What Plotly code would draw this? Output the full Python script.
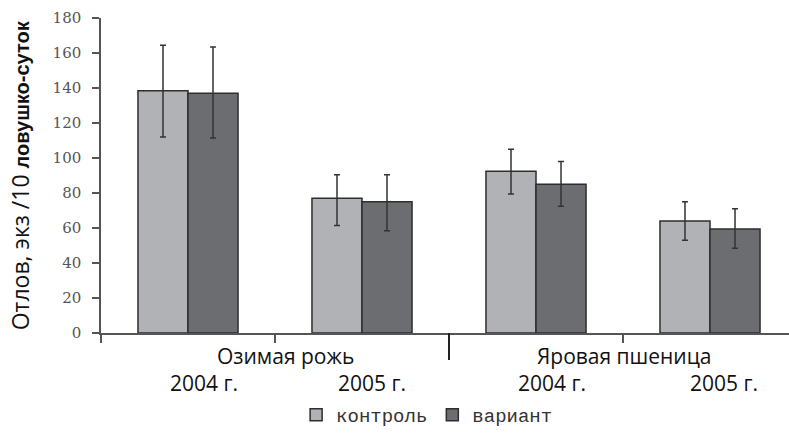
import plotly.graph_objects as go

# ---- data ----
crops = ["Озимая рожь", "Яровая пшеница"]
years = ["2004 г.", "2005 г.", "2004 г.", "2005 г."]
categories = ["Озимая рожь 2004", "Озимая рожь 2005", "Яровая пшеница 2004", "Яровая пшеница 2005"]
series_names = ["контроль", "вариант"]
control = [138.5, 77, 92.5, 64]
control_err_plus = [26, 13.5, 12.5, 11]
control_err_minus = [26.5, 15.5, 13, 11]
variant = [137, 75, 85, 59.5]
variant_err_plus = [26.5, 15.5, 13, 11.5]
variant_err_minus = [25.5, 16.5, 12.5, 11]
y_ticks = [0, 20, 40, 60, 80, 100, 120, 140, 160, 180]
y_title_main = "Отлов, экз /10"
y_title_sub = "ловушко-суток"

colors = ["#b1b2b6", "#6c6d71"]
edge = "#2e2e2e"

fig = go.Figure()
for name, vals, ep, em, col in [
    (series_names[0], control, control_err_plus, control_err_minus, colors[0]),
    (series_names[1], variant, variant_err_plus, variant_err_minus, colors[1]),
]:
    fig.add_trace(go.Bar(
        x=categories, y=vals, name=name,
        marker=dict(color=col, line=dict(color=edge, width=1.5)),
        error_y=dict(type="data", array=ep, arrayminus=em, symmetric=False,
                     color="#333333", thickness=1.5, width=3),
    ))

label_font = dict(family="Open Sans", size=21, color="#111111")
ann = []
# year labels
year_shift = [16, 10, 16, 14]
for i, yl in enumerate(years):
    ann.append(dict(x=i, y=-0.159, xref="x", yref="paper", text=yl, showarrow=False,
                    xshift=year_shift[i], yanchor="middle", font=label_font))
# crop labels (centred between their two years)
crop_shift = [10, 1]
for j, c in enumerate(crops):
    ann.append(dict(x=2 * j + 0.5, y=-0.073, xref="x", yref="paper", text=c, showarrow=False,
                    xshift=crop_shift[j], yanchor="middle", font=label_font))
# y title
ann.append(dict(x=-0.118, y=0.50, xref="paper", yref="paper", textangle=-90,
                showarrow=False, xanchor="center", yanchor="middle",
                text=y_title_main + " <span style='font-family:Liberation Sans;font-size:20px;font-weight:bold'>"
                     + y_title_sub + "</span>",
                font=dict(family="Open Sans", size=23, color="#111111")))

fig.update_layout(
    width=789, height=434,
    margin=dict(l=101, r=0, t=18, b=101),
    paper_bgcolor="white", plot_bgcolor="white",
    barmode="group", bargap=0.425, bargroupgap=0,
    showlegend=True,
    legend=dict(orientation="h", x=0.474, xanchor="center",
                yref="container", y=-0.014, yanchor="bottom",
                font=dict(family="Liberation Mono", size=19, color="#333333"),
                itemwidth=30, tracegroupgap=0, traceorder="normal"),
    annotations=ann,
    shapes=[dict(type="line", xref="x", yref="paper", x0=1.5, x1=1.5, y0=0, y1=-0.086,
                 line=dict(color="#222222", width=2))],
    xaxis=dict(type="category", range=[-0.5, 3.454], showticklabels=False,
               showline=True, linecolor="#555555", linewidth=1.5,
               ticks="outside", tickson="boundaries", ticklen=8, tickcolor="#555555", tickwidth=1.5,
               showgrid=False, zeroline=False, fixedrange=True),
    yaxis=dict(range=[0, 180], tickvals=y_ticks, showline=True, linecolor="#555555", linewidth=1.5,
               ticks="outside", ticklen=7, tickcolor="#555555", tickwidth=1.5,
               tickfont=dict(family="DejaVu Serif", size=15, color="#555555"),
               ticklabelstandoff=8,
               showgrid=False, zeroline=False),
)

fig.write_html("out.html", config={"displayModeBar": False},
               post_script="document.body.style.margin='0';")
